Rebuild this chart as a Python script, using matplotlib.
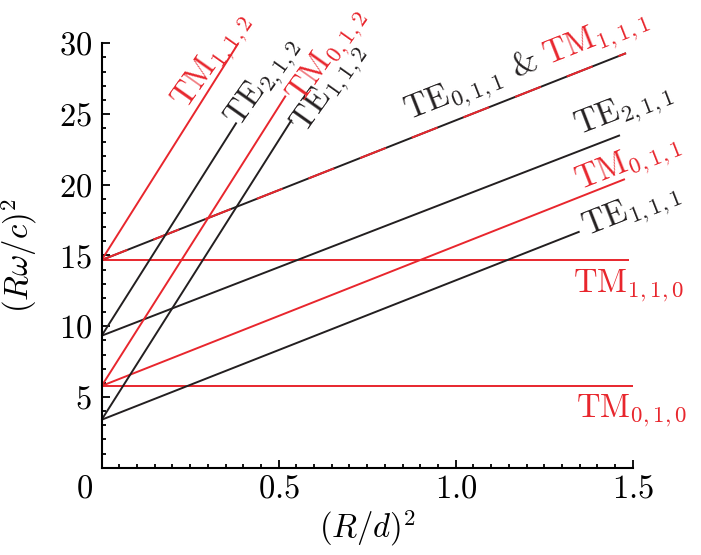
import numpy as np
import matplotlib.pyplot as plt
from matplotlib import transforms
from matplotlib.ticker import MultipleLocator

plt.rcParams['mathtext.fontset'] = 'cm'
plt.rcParams['font.family'] = 'serif'
plt.rcParams['font.serif'] = ['cmr10']
plt.rcParams['axes.unicode_minus'] = False
plt.rcParams['lines.scale_dashes'] = False

RED = '#e8262d'
BLACK = '#231f20'

# resonant modes: (R w / c)^2 at (R/d)^2 = 0 and where each line stops
mode_names = ['TM_{0,1,0}', 'TM_{1,1,0}', 'TE_{1,1,1}', 'TM_{0,1,1}', 'TE_{2,1,1}',
              'TE_{0,1,1}', 'TE_{1,1,2}', 'TM_{0,1,2}', 'TE_{2,1,2}', 'TM_{1,1,2}']
y_start = [5.78, 14.68, 3.39, 5.78, 9.33, 14.68, 3.39, 5.78, 9.33, 14.68]
x_end = [1.50, 1.49, 1.35, 1.478, 1.464, 1.481, 0.537, 0.52, 0.381, 0.386]
y_end = [5.78, 14.68, 16.69, 20.4, 23.5, 29.3, 24.6, 26.3, 24.4, 30.0]
degenerate_name = 'TM_{1,1,1}'  # shares the TE_{0,1,1} line

xticks = [0, 0.5, 1.0, 1.5]
xtick_labels = ['$0$', '$0.5$', '$1.0$', '$1.5$']
yticks = [5, 10, 15, 20, 25, 30]

# where each label starts (data coords), rotate along line or not
label_pos = {
    'TM_{0,1,0}': (1.340, 3.58, False),
    'TM_{1,1,0}': (1.332, 12.45, False),
    'TE_{1,1,1}': (1.370, 16.37, True),
    'TM_{0,1,1}': (1.351, 19.67, True),
    'TE_{2,1,1}': (1.346, 23.55, True),
    'TE_{0,1,1}': (0.866, 24.6, True),
    'TE_{1,1,2}': (0.575, 23.6, True),
    'TM_{0,1,2}': (0.565, 25.6, True),
    'TE_{2,1,2}': (0.390, 24.0, True),
    'TM_{1,1,2}': (0.240, 25.3, True),
}

FS = 23.5

fig = plt.figure(figsize=(7.01, 5.55), dpi=100)
ax = fig.add_axes([0.145, 0.1573, 0.9026 - 0.145, 0.922 - 0.1573])
ax.set_xlim(0, 1.5)
ax.set_ylim(0, 30)

for s in ['top', 'right']:
    ax.spines[s].set_visible(False)
for s in ['left', 'bottom']:
    ax.spines[s].set_linewidth(1.5)

ax.set_xticks(xticks, xtick_labels)
ax.set_yticks(yticks, ['$%d$' % v for v in yticks])
ax.xaxis.set_minor_locator(MultipleLocator(0.05))
ax.yaxis.set_minor_locator(MultipleLocator(1))
ax.tick_params(which='both', direction='in', width=1.3, labelsize=FS)
ax.tick_params(which='major', length=5.5)
ax.tick_params(which='minor', length=3.2)
ax.tick_params(axis='y', pad=7)
ax.tick_params(axis='x', pad=5)

# the "0" label sits left of its tick in the original
lab0 = ax.get_xticklabels()[0]
lab0.set_transform(lab0.get_transform() +
                   transforms.ScaledTranslation(-17 / 100, 0, fig.dpi_scale_trans))

ax.set_xlabel(r'$(R/d)^2$', fontsize=FS, labelpad=3)
ax.set_ylabel(r'$(R\omega/c)^2$', fontsize=FS, labelpad=14)


def screen_angle(x0, y0, x1, y1):
    p0 = ax.transData.transform((x0, y0))
    p1 = ax.transData.transform((x1, y1))
    return np.degrees(np.arctan2(p1[1] - p0[1], p1[0] - p0[0]))


for name, y0, x1, y1 in zip(mode_names, y_start, x_end, y_end):
    col = RED if name.startswith('TM') else BLACK
    ax.plot([0, x1], [y0, y1], color=col, lw=1.4, clip_on=False,
            solid_capstyle='butt')
    if name == 'TE_{0,1,1}':
        ax.plot([0, x1], [y0, y1], color=RED, lw=1.4, clip_on=False,
                dashes=(20, 20), dash_capstyle='butt')

fig.canvas.draw()
renderer = fig.canvas.get_renderer()

for name, y0, x1, y1 in zip(mode_names, y_start, x_end, y_end):
    col = RED if name.startswith('TM') else BLACK
    lx, ly, rot = label_pos[name]
    ang = screen_angle(0, y0, x1, y1) if rot else 0
    if ang > 45:
        ang -= 3  # steep labels lean a little less than their lines
    txt = r'$\mathrm{%s}_{%s}$' % (name[:2], name[4:-1])
    if name == 'TE_{0,1,1}':
        t = ax.text(lx, ly, txt + ' &', color=BLACK, fontsize=FS,
                    rotation=ang, rotation_mode='anchor', ha='left', va='baseline')
        tmp = ax.text(0, 0, txt + ' &', fontsize=FS)
        w = tmp.get_window_extent(renderer).width + 9
        tmp.remove()
        off = transforms.offset_copy(ax.transData, fig,
                                     x=w * np.cos(np.radians(ang)),
                                     y=w * np.sin(np.radians(ang)), units='dots')
        dn = degenerate_name
        ax.text(lx, ly, r'$\mathrm{%s}_{%s}$' % (dn[:2], dn[4:-1]), color=RED,
                fontsize=FS, rotation=ang, rotation_mode='anchor',
                ha='left', va='baseline', transform=off)
    else:
        ax.text(lx, ly, txt, color=col, fontsize=FS, rotation=ang,
                rotation_mode='anchor', ha='left', va='baseline')

fig.savefig('out.png', dpi=100)
